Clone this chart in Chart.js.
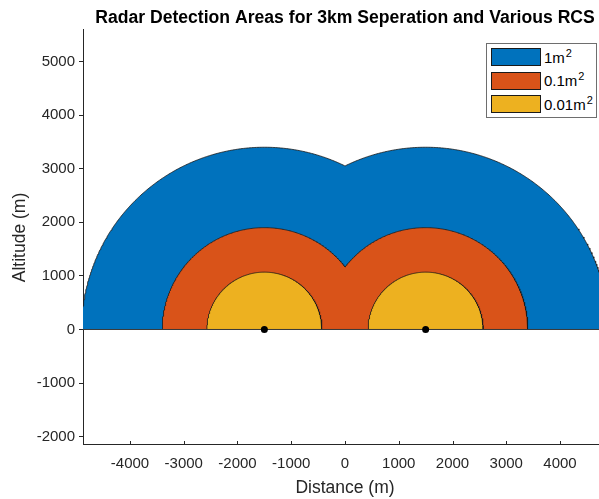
<!DOCTYPE html>
<html>
<head>
<meta charset="utf-8">
<script src="https://cdn.jsdelivr.net/npm/chart.js@4/dist/chart.umd.min.js"></script>
<style>
  html, body { margin: 0; padding: 0; overflow: hidden; background: #fff; width: 599px; height: 499px; }
  #wrap { position: relative; width: 607px; height: 499px; }
  canvas { display: block; }
  #legend {
    position: absolute; left: 486px; top: 43px; width: 111px; height: 75px;
    border: 1px solid #6e6e6e; background: #fff; box-sizing: border-box;
    font-family: 'Liberation Sans', Arial, sans-serif; font-size: 15px; color: #000;
  }
  .item { position: absolute; left: 4px; height: 18px; display: flex; align-items: center; }
  .patch { width: 48px; height: 16px; border: 1px solid #1a1a1a; margin-right: 3px; }
  .sup { font-size: 11px; position: relative; top: -6px; margin-left: 1px; }
</style>
</head>
<body>
<div id="wrap">
  <canvas id="c" width="607" height="499"></canvas>
  <div id="legend"></div>
</div>
<script>
// ---- data ----
const radarX = [-1500, 1500];          // radar positions (m)
const radarY = [0, 0];
const seriesLabels = ['1m\u00b2', '0.1m\u00b2', '0.01m\u00b2'];
const detectionRange = [3400, 1900, 1070]; // detection radius per RCS (m)
const xTicks = [-4000, -3000, -2000, -1000, 0, 1000, 2000, 3000, 4000];
const yTicks = [-2000, -1000, 0, 1000, 2000, 3000, 4000, 5000];

// ---- styles ----
const fillColors = ['#0072BD', '#D95319', '#EDB120'];
const inkColor = '#262626';
const fontFamily = "'Liberation Sans', Arial, Helvetica, sans-serif";

// Upper outline of the union of the two detection half-discs of radius r
function outline(r) {
  const pts = [];
  const mid = (radarX[0] + radarX[1]) / 2;
  const overlap = r > (radarX[1] - radarX[0]) / 2;
  const n = 360;
  for (let i = 0; i <= n; i++) {
    const t = Math.PI - Math.PI * i / n;
    const x = radarX[0] + r * Math.cos(t);
    if (overlap && x > mid) break;
    pts.push({ x: x, y: radarY[0] + r * Math.sin(t) });
  }
  if (overlap) {
    pts.push({ x: mid, y: Math.sqrt(r * r - (mid - radarX[0]) ** 2) });
  } else {
    pts.push({ x: mid, y: null });
  }
  for (let i = 0; i <= n; i++) {
    const t = Math.PI - Math.PI * i / n;
    const x = radarX[1] + r * Math.cos(t);
    if (overlap && x < mid) continue;
    pts.push({ x: x, y: radarY[1] + r * Math.sin(t) });
  }
  return pts;
}

const datasets = [];
detectionRange.forEach((r, i) => {
  datasets.push({
    label: seriesLabels[i],
    data: outline(r),
    showLine: true,
    fill: 'origin',
    backgroundColor: fillColors[i],
    borderColor: '#1a1a1a',
    borderWidth: 0.8,
    pointRadius: 0,
    tension: 0,
    spanGaps: false,
    order: 10 - i
  });
});
const outer = datasets[0].data;
datasets.push({
  label: 'baseline',
  data: [{ x: outer[0].x, y: 0 }, { x: outer[outer.length - 1].x, y: 0 }],
  showLine: true, fill: false, borderColor: '#3a3a3a', borderWidth: 1,
  pointRadius: 0, order: 2
});
datasets.push({
  label: 'radars',
  data: radarX.map((x, i) => ({ x: x, y: radarY[i] })),
  showLine: false, pointRadius: 3.5, pointBackgroundColor: '#000',
  pointBorderColor: '#000', pointBorderWidth: 0, order: 1
});

// inward tick marks on x axis
const innerTicks = {
  id: 'innerTicks',
  afterDatasetsDraw(chart) {
    const ctx = chart.ctx, xs = chart.scales.x, b = chart.chartArea.bottom;
    ctx.save();
    ctx.strokeStyle = inkColor;
    ctx.lineWidth = 1;
    xTicks.forEach(v => {
      const p = Math.round(xs.getPixelForValue(v)) + 0.5;
      ctx.beginPath(); ctx.moveTo(p, b); ctx.lineTo(p, b - 4); ctx.stroke();
    });
    ctx.restore();
  }
};

new Chart(document.getElementById('c'), {
  type: 'scatter',
  data: { datasets: datasets },
  plugins: [innerTicks],
  options: {
    responsive: false,
    animation: false,
    devicePixelRatio: 1,
    layout: { padding: 0, autoPadding: false },
    plugins: {
      legend: { display: false },
      tooltip: { enabled: false },
      title: {
        display: true,
        text: 'Radar Detection Areas for 3km Seperation and Various RCS',
        fullSize: false,
        color: '#000',
        font: { family: fontFamily, size: 17.6, weight: 'bold', lineHeight: 1.1 },
        padding: { top: 8.3, bottom: 2.3 }
      }
    },
    scales: {
      x: {
        type: 'linear', min: -4874, max: 4874,
        afterFit(s) { s.height = 54; s.paddingLeft = 0; s.paddingRight = 0; },
        afterBuildTicks(s) { s.ticks = xTicks.map(v => ({ value: v })); },
        grid: { drawOnChartArea: false, drawTicks: false },
        border: { display: true, color: inkColor, width: 1 },
        ticks: {
          color: inkColor, padding: 10, maxRotation: 0, autoSkip: false,
          font: { family: fontFamily, size: 15 },
          callback: v => String(v)
        },
        title: {
          display: true, text: 'Distance (m)', color: inkColor,
          font: { family: fontFamily, size: 17.5, lineHeight: 1 },
          padding: { top: 0, bottom: 2 }
        }
      },
      y: {
        type: 'linear', min: -2155, max: 5588,
        afterFit(s) { s.width = 83; s.paddingTop = 0; s.paddingBottom = 0; },
        afterBuildTicks(s) { s.ticks = yTicks.map(v => ({ value: v })); },
        grid: { drawOnChartArea: false, drawTicks: true, tickLength: 4, color: inkColor },
        border: { display: true, color: inkColor, width: 1 },
        ticks: {
          color: inkColor, padding: 4, autoSkip: false,
          font: { family: fontFamily, size: 15 },
          callback: v => String(v)
        },
        title: {
          display: true, text: 'Altitude (m)', color: inkColor,
          font: { family: fontFamily, size: 17.5, lineHeight: 1 },
          padding: { top: 11, bottom: 0 }
        }
      }
    }
  }
});

// legend (text from seriesLabels; the squared sign is shown as a raised 2)
const lg = document.getElementById('legend');
seriesLabels.forEach((lab, i) => {
  const it = document.createElement('div');
  it.className = 'item';
  it.style.top = (4 + i * 23.7) + 'px';
  const p = document.createElement('div');
  p.className = 'patch';
  p.style.background = fillColors[i];
  const t = document.createElement('span');
  const parts = lab.split('\u00b2');
  t.appendChild(document.createTextNode(parts[0]));
  if (parts.length > 1) {
    const s = document.createElement('span');
    s.className = 'sup';
    s.textContent = '2';
    t.appendChild(s);
  }
  it.appendChild(p); it.appendChild(t);
  lg.appendChild(it);
});
</script>
</body>
</html>
